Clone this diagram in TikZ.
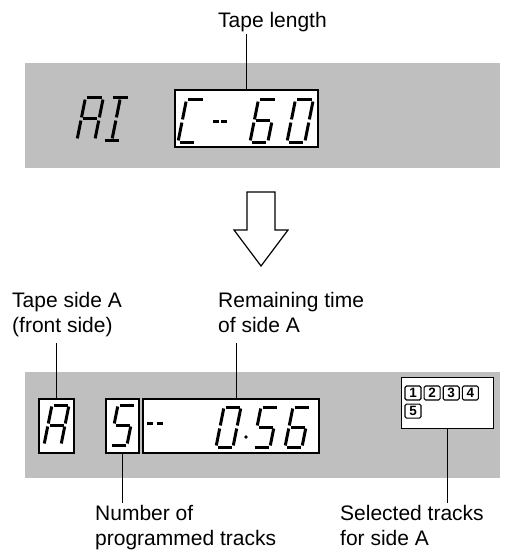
\documentclass[tikz,border=0pt]{standalone}
\usepackage{fontspec}
\setmainfont{Liberation Sans}
\usetikzlibrary{positioning,calc}

\tikzset{
  panel/.style={fill=black!25, draw=none, inner sep=0pt},
  lcdbox/.style={draw, fill=white, line width=1.2pt, inner sep=0pt},
  lcdseg/.style={line width=3pt, line cap=butt},
  callout/.style={font=\fontsize{21}{25}\selectfont, align=left, inner sep=0pt},
  leader/.style={line width=0.9pt},
  trackbox/.style={draw, line width=1.1pt, rounded corners=1.5pt, minimum width=16pt, minimum height=14pt, inner sep=0pt, font=\fontsize{13.5}{13.5}\selectfont\bfseries},
}

% seven segments of one digit (w=17, h=40), plus two centre strokes
\newcommand{\lcdsegdef}[2]{\expandafter\def\csname lcdseg#1\endcsname{#2}}
\lcdsegdef{a}{(1.5,40) -- (15.5,40)}
\lcdsegdef{b}{(17,38.5) -- (17,21.5)}
\lcdsegdef{c}{(17,18.5) -- (17,1.5)}
\lcdsegdef{d}{(1.5,0) -- (15.5,0)}
\lcdsegdef{e}{(0,18.5) -- (0,1.5)}
\lcdsegdef{f}{(0,38.5) -- (0,21.5)}
\lcdsegdef{g}{(1.5,20) -- (15.5,20)}
\lcdsegdef{h}{(8.5,38.5) -- (8.5,21.5)}
\lcdsegdef{i}{(8.5,18.5) -- (8.5,1.5)}

\newcommand{\lcddigit}[4][1]{%
  \begin{scope}[shift={(#2,#3)}, y=1pt, xslant=0.2, scale=#1]
    \foreach \s in {#4} {\expandafter\let\expandafter\segpath\csname lcdseg\s\endcsname \draw[lcdseg] \segpath;}
  \end{scope}}

\begin{document}
\begin{tikzpicture}[x=1pt, y=-1pt]
\useasboundingbox (0,0) rectangle (506,559);

% top display
\node[panel, minimum width=475pt, minimum height=105pt] (toppanel) at (262.5,115.5) {};
\node[lcdbox, minimum width=143pt, minimum height=57pt] (lenbox) at (246.5,118.5) {};
\node[callout, anchor=base] (tapelen) at (272.5,27.5) {Tape length};
\draw[leader, shorten <=2pt] (tapelen.south -| lenbox.north) -- (lenbox.north);

\lcddigit[1.05]{77}{140}{a,b,c,e,f,g}
\lcddigit[1.05]{103}{140}{a,h,i,d}
\lcddigit[1.05]{178}{142}{a,d,e,f}
\draw[lcdseg] (213,122) -- (219,122) (221,122) -- (227,122);
\lcddigit[1.05]{250}{142}{a,c,d,e,f,g}
\lcddigit[1.05]{287}{142}{a,b,c,d,e,f}

% arrow
\draw[line width=1.2pt, fill=white] (247,192) -- (275,192) -- (275,230) -- (288,230) -- (261,266) -- (234,230) -- (247,230) -- cycle;

% bottom display
\node[panel, minimum width=475pt, minimum height=106pt] (botpanel) at (262.5,425) {};
\node[lcdbox, minimum width=35pt, minimum height=54pt] (sidebox) at (56.5,426) {};
\node[lcdbox, minimum width=33pt, minimum height=54pt] (numbox) at (122.5,426) {};
\node[lcdbox, minimum width=176pt, minimum height=54pt] (timebox) at (231,426) {};
\node[lcdbox, line width=1pt, minimum width=92pt, minimum height=51pt] (trackpanel) at (447,402.5) {};

\lcddigit{44}{445}{a,b,c,e,f,g}
\lcddigit{110}{445}{a,f,g,c,d}
\draw[lcdseg] (147,423) -- (153,423) (157,423) -- (163,423);
\lcddigit{216}{447}{a,b,c,d,e,f}
\fill (246,437) circle (1.8);
\lcddigit{253}{447}{a,f,g,c,d}
\lcddigit{285}{447}{a,c,d,e,f,g}

\node[trackbox] (t1) at (413,393) {1};
\node[trackbox, right=2pt of t1] (t2) {2};
\node[trackbox, right=2pt of t2] (t3) {3};
\node[trackbox, right=2pt of t3] (t4) {4};
\node[trackbox, below=3pt of t1] (t5) {5};

% callouts
\node[callout, anchor=north west] (sidelbl) at (12,292) {Tape side A\\(front side)};
\node[callout, anchor=north west] (timelbl) at (218,292) {Remaining time\\of side A};
\node[callout, anchor=north west] (numlbl) at (95,505) {Number of\\programmed tracks};
\node[callout, anchor=north west] (sellbl) at (340,505) {Selected tracks\\for side A};
\coordinate (lbltop) at (0,343);

\draw[leader] (sidebox.north) -- (sidebox.north |- lbltop);
\draw[leader] ([xshift=5pt]timebox.north) -- ([xshift=5pt]timebox.north |- lbltop);
\draw[leader, shorten >=2pt] (numbox.south) -- (numbox.south |- numlbl.north);
\draw[leader, shorten >=2pt] (trackpanel.south) -- (trackpanel.south |- sellbl.north);
\end{tikzpicture}
\end{document}
